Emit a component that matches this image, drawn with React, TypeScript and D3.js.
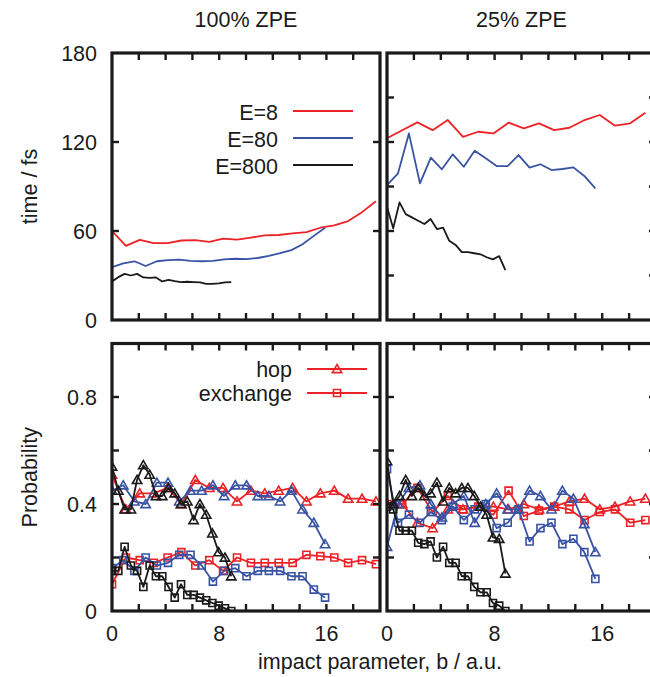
import * as d3 from "d3";

// impact parameter grids (one per energy and panel)
const bRedL = [0, 1.04, 2.07, 3.11, 4.15, 5.18, 6.22, 7.26, 8.29, 9.33, 10.37, 11.4, 12.44, 13.48, 14.51, 15.55, 16.59, 17.62, 18.66, 19.7];
const bBlueL = [0, 0.84, 1.67, 2.51, 3.35, 4.18, 5.02, 5.86, 6.69, 7.53, 8.37, 9.2, 10.04, 10.88, 11.71, 12.55, 13.39, 14.22, 15.06, 15.9];
const bBlackL = [0, 0.47, 0.94, 1.41, 1.87, 2.34, 2.81, 3.28, 3.75, 4.22, 4.68, 5.15, 5.62, 6.09, 6.56, 7.03, 7.49, 7.96, 8.43, 8.9];
const bRedR = [0, 1.13, 2.26, 3.39, 4.52, 5.65, 6.78, 7.91, 9.04, 10.17, 11.3, 12.43, 13.56, 14.69, 15.82, 16.95, 18.08, 19.21];
const bBlueR = [0, 0.82, 1.63, 2.45, 3.26, 4.08, 4.89, 5.71, 6.52, 7.34, 8.15, 8.97, 9.78, 10.6, 11.41, 12.23, 13.04, 13.86, 14.67, 15.49];
const bBlackR = [0, 0.46, 0.93, 1.39, 1.85, 2.32, 2.78, 3.24, 3.71, 4.17, 4.63, 5.1, 5.56, 6.02, 6.49, 6.95, 7.41, 7.88, 8.34, 8.8];

// time / fs
const timeRedL = [60, 50, 54, 51.8, 51.8, 53.6, 53.8, 52.7, 54.9, 54.2, 55.6, 57.1, 57.3, 58.4, 59.3, 62.2, 63.8, 66.7, 72.7, 80];
const timeBlueL = [35.6, 38.2, 39.6, 36.4, 39.6, 40.4, 40.7, 39.8, 39.6, 39.8, 40.9, 41.3, 41.1, 41.8, 43.3, 45.1, 47.1, 51.1, 56.7, 62.2];
const timeBlackL = [26, 28.9, 31.1, 30, 31.1, 28.7, 28.4, 28.7, 26, 27.1, 26.2, 25.6, 25.8, 25.6, 25.3, 24.4, 24.4, 24.7, 25.3, 25.6];
const timeRedR = [122.5, 127.9, 133.2, 128.0, 134.8, 123.5, 126.9, 125.8, 133.0, 129.2, 132.6, 128.0, 129.6, 134.8, 138.2, 131.0, 132.6, 139.7];
const timeBlueR = [91.0, 98.9, 125.8, 92.1, 109.4, 101.6, 111.7, 103.3, 114.1, 109.0, 103.8, 103.8, 111.2, 102.7, 105.0, 101.1, 101.8, 102.9, 97.1, 88.8];
const timeBlackR = [76.4, 61.8, 79.3, 71.4, 69.2, 66.9, 64.7, 68.1, 61.3, 62.2, 53.4, 50.6, 45.8, 45.8, 45.0, 44.3, 42.3, 40.9, 43.1, 33.7];

// probabilities
const hopRedL = [0.51, 0.38, 0.44, 0.44, 0.46, 0.4, 0.49, 0.46, 0.46, 0.41, 0.45, 0.44, 0.45, 0.46, 0.41, 0.44, 0.45, 0.42, 0.42, 0.41];
const exchRedL = [0.1, 0.2, 0.19, 0.18, 0.2, 0.22, 0.17, 0.19, 0.15, 0.2, 0.18, 0.18, 0.18, 0.18, 0.21, 0.205, 0.2, 0.18, 0.19, 0.175];
const hopBlueL = [0.45, 0.47, 0.41, 0.4, 0.48, 0.48, 0.41, 0.45, 0.45, 0.47, 0.43, 0.47, 0.47, 0.43, 0.43, 0.41, 0.45, 0.38, 0.33, 0.25];
const exchBlueL = [0.16, 0.19, 0.15, 0.2, 0.17, 0.18, 0.21, 0.21, 0.17, 0.11, 0.15, 0.16, 0.13, 0.15, 0.15, 0.15, 0.13, 0.13, 0.08, 0.05];
const hopBlackL = [0.54, 0.45, 0.38, 0.38, 0.49, 0.545, 0.51, 0.43, 0.43, 0.46, 0.44, 0.4, 0.41, 0.34, 0.4, 0.36, 0.29, 0.22, 0.2, 0.13];
const exchBlackL = [0.15, 0.15, 0.24, 0.17, 0.15, 0.09, 0.17, 0.13, 0.13, 0.09, 0.05, 0.1, 0.06, 0.06, 0.05, 0.04, 0.03, 0.02, 0.01, 0.0];
const hopRedR = [0.4, 0.4, 0.33, 0.31, 0.38, 0.38, 0.39, 0.39, 0.38, 0.4, 0.38, 0.39, 0.41, 0.42, 0.38, 0.39, 0.41, 0.42];
const exchRedR = [0.4, 0.4, 0.46, 0.37, 0.43, 0.38, 0.39, 0.36, 0.45, 0.355, 0.375, 0.39, 0.38, 0.34, 0.37, 0.38, 0.33, 0.34];
const hopBlueR = [0.24, 0.4, 0.46, 0.47, 0.4, 0.35, 0.4, 0.43, 0.33, 0.4, 0.44, 0.38, 0.38, 0.45, 0.43, 0.38, 0.45, 0.42, 0.325, 0.22];
const exchBlueR = [0.53, 0.33, 0.36, 0.33, 0.37, 0.34, 0.39, 0.34, 0.38, 0.4, 0.31, 0.33, 0.38, 0.26, 0.31, 0.33, 0.25, 0.27, 0.22, 0.12];
const hopBlackR = [0.56, 0.4, 0.43, 0.49, 0.43, 0.46, 0.43, 0.44, 0.48, 0.41, 0.46, 0.44, 0.46, 0.46, 0.43, 0.39, 0.36, 0.275, 0.27, 0.14];
const exchBlackR = [0.39, 0.38, 0.3, 0.3, 0.3, 0.255, 0.25, 0.26, 0.2, 0.24, 0.18, 0.18, 0.13, 0.13, 0.09, 0.07, 0.07, 0.03, 0.02, 0.0];

const energies = ["E=8", "E=80", "E=800"];
const colTitles = ["100% ZPE", "25% ZPE"];
const xTickLabels = [0, 8, 16];
const timeTickLabels = [0, 60, 120, 180];
const probTickLabels = [0, 0.4, 0.8];

const RED = "#ec2227";
const BLUE = "#3853a4";
const BLACK = "#1a1a1a";
const FONT = "'Liberation Sans', Arial, Helvetica, sans-serif";
const FS = 21.5;

const W = 650, H = 677;
const xL = d3.scaleLinear().domain([0, 20]).range([112, 380]);
const xR = d3.scaleLinear().domain([0, 20]).range([387, 656]);
const yT = d3.scaleLinear().domain([0, 180]).range([320, 53]);
const yB = d3.scaleLinear().domain([0, 1]).range([611, 343.5]);

const zip = (b: number[], v: number[]) => v.map((y, i) => [b[i], y] as [number, number]);

type Series = { pts: [number, number][]; color: string; marker?: "tri" | "sq" };

const panels = [
  {
    id: "tl", x: xL, y: yT, yTicks: [60, 120],
    series: [
      { pts: zip(bRedL, timeRedL), color: RED },
      { pts: zip(bBlueL, timeBlueL), color: BLUE },
      { pts: zip(bBlackL, timeBlackL), color: BLACK },
    ] as Series[],
  },
  {
    id: "tr", x: xR, y: yT, yTicks: [30, 60, 90, 120, 150],
    series: [
      { pts: zip(bRedR, timeRedR), color: RED },
      { pts: zip(bBlueR, timeBlueR), color: BLUE },
      { pts: zip(bBlackR, timeBlackR), color: BLACK },
    ] as Series[],
  },
  {
    id: "bl", x: xL, y: yB, yTicks: [0.2, 0.4, 0.6, 0.8],
    series: [
      { pts: zip(bRedL, exchRedL), color: RED, marker: "sq" },
      { pts: zip(bRedL, hopRedL), color: RED, marker: "tri" },
      { pts: zip(bBlueL, exchBlueL), color: BLUE, marker: "sq" },
      { pts: zip(bBlueL, hopBlueL), color: BLUE, marker: "tri" },
      { pts: zip(bBlackL, exchBlackL), color: BLACK, marker: "sq" },
      { pts: zip(bBlackL, hopBlackL), color: BLACK, marker: "tri" },
    ] as Series[],
  },
  {
    id: "br", x: xR, y: yB, yTicks: [0.2, 0.4, 0.6, 0.8],
    series: [
      { pts: zip(bRedR, exchRedR), color: RED, marker: "sq" },
      { pts: zip(bRedR, hopRedR), color: RED, marker: "tri" },
      { pts: zip(bBlueR, exchBlueR), color: BLUE, marker: "sq" },
      { pts: zip(bBlueR, hopBlueR), color: BLUE, marker: "tri" },
      { pts: zip(bBlackR, exchBlackR), color: BLACK, marker: "sq" },
      { pts: zip(bBlackR, hopBlackR), color: BLACK, marker: "tri" },
    ] as Series[],
  },
];

const triPath = d3.symbol().type(d3.symbolTriangle).size(38)()!;
const sqPath = d3.symbol().type(d3.symbolSquare).size(50)()!;

function Marker({ kind, cx, cy, color }: { kind: "tri" | "sq"; cx: number; cy: number; color: string }) {
  return (
    <path
      d={kind === "tri" ? triPath : sqPath}
      transform={`translate(${cx},${cy + (kind === "tri" ? 0.9 : 0)})`}
      fill="none"
      stroke={color}
      strokeWidth={1.6}
    />
  );
}

function Panel({ p }: { p: (typeof panels)[number] }) {
  const [x0, x1] = p.x.range();
  const [y0, y1] = p.y.range();
  const line = d3.line<[number, number]>().x((d) => p.x(d[0])).y((d) => p.y(d[1]));
  const xTicks = d3.range(2, 20, 2);
  const tl = 7;
  return (
    <g>
      <defs>
        <clipPath id={`clip-${p.id}`}>
          <rect x={x0} y={y1} width={x1 - x0} height={y0 - y1} />
        </clipPath>
      </defs>
      <g clipPath={`url(#clip-${p.id})`}>
        {p.series.map((s, i) => (
          <g key={i}>
            <path d={line(s.pts)!} fill="none" stroke={s.color} strokeWidth={1.8} strokeLinejoin="round" />
            {s.marker && s.pts.map((d, j) => (
              <Marker key={j} kind={s.marker!} cx={p.x(d[0])} cy={p.y(d[1])} color={s.color} />
            ))}
          </g>
        ))}
      </g>
      {xTicks.map((t) => (
        <g key={t} stroke={BLACK} strokeWidth={2.4}>
          <line x1={p.x(t)} x2={p.x(t)} y1={y0} y2={y0 - tl} />
          <line x1={p.x(t)} x2={p.x(t)} y1={y1} y2={y1 + tl} />
        </g>
      ))}
      {p.yTicks.map((t) => (
        <g key={t} stroke={BLACK} strokeWidth={2.4}>
          <line x1={x0} x2={x0 + tl} y1={p.y(t)} y2={p.y(t)} />
          <line x1={x1} x2={x1 - tl} y1={p.y(t)} y2={p.y(t)} />
        </g>
      ))}
      <rect x={x0} y={y1} width={x1 - x0} height={y0 - y1} fill="none" stroke={BLACK} strokeWidth={3.2} />
    </g>
  );
}

export default function App() {
  const legendColors = [RED, BLUE, BLACK];
  return (
    <svg width={W} height={H} style={{ position: "absolute", left: 0, top: 0, background: "#fff" }} fontFamily={FONT} fontSize={FS}>
      <rect width={W} height={H} fill="#fff" />
      {panels.map((p) => <Panel key={p.id} p={p} />)}

      {/* column titles */}
      {colTitles.map((t, i) => {
        const sx = i === 0 ? xL : xR;
        return (
          <text key={t} x={(sx(0) + sx(20)) / 2} y={27} textAnchor="middle" fill={BLACK}>{t}</text>
        );
      })}

      {/* y tick labels */}
      {timeTickLabels.map((t) => (
        <text key={t} x={97} y={yT(t)} dy="0.36em" textAnchor="end" fill={BLACK}>{t}</text>
      ))}
      {probTickLabels.map((t) => (
        <text key={t} x={97} y={yB(t)} dy="0.36em" textAnchor="end" fill={BLACK}>{t}</text>
      ))}

      {/* x tick labels */}
      {[xL, xR].map((sx, k) =>
        xTickLabels.map((t) => (
          <text key={`${k}-${t}`} x={sx(t)} y={641} textAnchor="middle" fill={BLACK}>{t}</text>
        ))
      )}

      {/* axis titles */}
      <text transform={`translate(37,${(yT(0) + yT(180)) / 2}) rotate(-90)`} textAnchor="middle" fill={BLACK}>time / fs</text>
      <text transform={`translate(37,${(yB(0) + yB(1)) / 2}) rotate(-90)`} textAnchor="middle" fill={BLACK}>Probability</text>
      <text x={380} y={669} textAnchor="middle" fill={BLACK}>impact parameter, b / a.u.</text>

      {/* energy legend */}
      {energies.map((e, i) => (
        <g key={e}>
          <text x={278} y={120 + i * 27} textAnchor="end" fill={BLACK}>{e}</text>
          <line x1={293} x2={353} y1={111 + i * 27} y2={111 + i * 27} stroke={legendColors[i]} strokeWidth={1.8} />
        </g>
      ))}

      {/* channel legend */}
      {[{ label: "hop", kind: "tri" as const }, { label: "exchange", kind: "sq" as const }].map((d, i) => (
        <g key={d.label}>
          <text x={292} y={377 + i * 24} textAnchor="end" fill={BLACK}>{d.label}</text>
          <line x1={307} x2={367} y1={369 + i * 24} y2={369 + i * 24} stroke={RED} strokeWidth={1.8} />
          <Marker kind={d.kind} cx={337} cy={369 + i * 24} color={RED} />
        </g>
      ))}
    </svg>
  );
}
